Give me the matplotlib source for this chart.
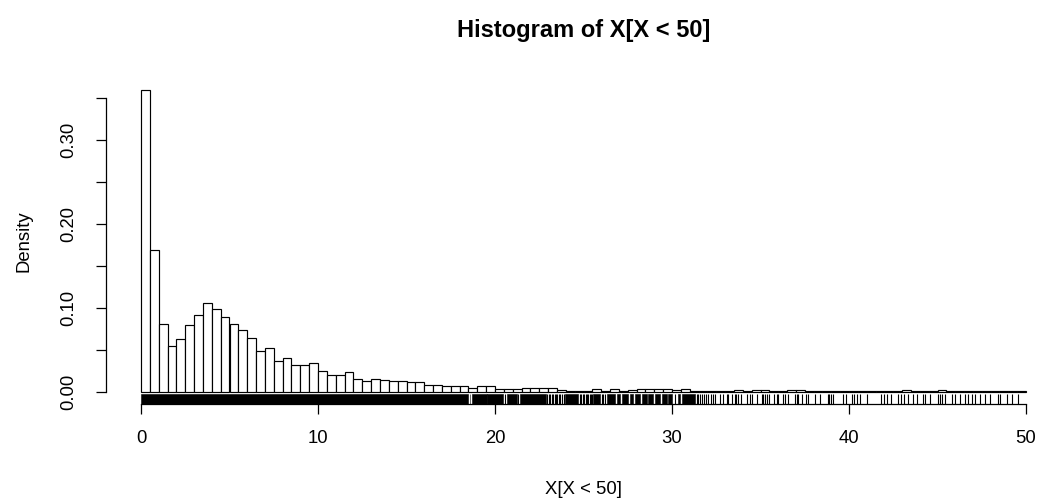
import numpy as np
import matplotlib
matplotlib.use("Agg")
import matplotlib.pyplot as plt
from matplotlib.patches import Rectangle
import matplotlib.transforms as mtransforms

plt.rcParams['font.family'] = ['Liberation Sans', 'DejaVu Sans']

# ---- data ----
bin_width = 0.5
bin_start = 0.0
densities = [
    0.359, 0.169, 0.081, 0.054, 0.063, 0.079, 0.091, 0.105, 0.099, 0.089,
    0.081, 0.073, 0.064, 0.049, 0.052, 0.037, 0.040, 0.032, 0.032, 0.034,
    0.025, 0.020, 0.020, 0.023, 0.0155, 0.0127, 0.0155, 0.0143, 0.0127, 0.0127,
    0.0111, 0.0111, 0.0079, 0.0079, 0.0063, 0.0063, 0.0063, 0.0048, 0.0063, 0.0063,
    0.0032, 0.0032, 0.0032, 0.0048, 0.0048, 0.0048, 0.0040, 0.0025, 0.0012, 0.0012,
    0.0008, 0.0028, 0.0012, 0.0028, 0.0012, 0.0016, 0.0028, 0.0028, 0.0028, 0.0028,
    0.0016, 0.0028, 0.0012, 0.0012, 0.0012, 0.0008, 0.0012, 0.0016, 0.0012, 0.0016,
    0.0016, 0.0008, 0.0012, 0.0016, 0.0016, 0.0008, 0.0008, 0.0012, 0.0004, 0.0008,
    0.0012, 0.0004, 0.0004, 0.0008, 0.0008, 0.0008, 0.0016, 0.0008, 0.0008, 0.0004,
    0.0016, 0.0008, 0.0004, 0.0012, 0.0008, 0.0008, 0.0004, 0.0008, 0.0004, 0.0004,
]

# rug: dense stretches (start, end) and individual ticks
rug_blocks = [
    (0.0, 18.48), (18.57, 18.61), (18.68, 19.52), (19.56, 20.47),
    (20.68, 21.22), (21.40, 22.88), (23.95, 24.70), (25.55, 25.93),
    (26.31, 26.78), (26.87, 27.06), (27.16, 27.53), (27.63, 27.81),
    (27.91, 28.19), (28.29, 28.57), (28.66, 28.94), (29.04, 29.32),
    (29.42, 29.70), (29.76, 29.98), (30.36, 30.45), (30.58, 31.30),
]
rug_ticks = [
    20.58, 21.29, 22.95, 23.05, 23.12, 23.20, 23.30, 23.39, 23.45, 23.52,
    23.62, 23.70, 23.80, 23.88, 24.78, 24.85, 24.95, 25.05, 25.12, 25.20,
    25.27, 25.35, 25.42, 25.48, 26.02, 26.12, 26.22, 30.17,
    31.39, 31.49, 31.58, 31.68, 31.81, 31.92, 32.05, 32.19, 32.33, 32.43,
    32.71, 32.90, 33.09, 33.18, 33.37, 33.56, 33.62, 33.75, 33.88,
    34.22, 34.41, 34.50, 34.78, 35.07, 35.16, 35.25, 35.35, 35.50,
    35.78, 35.91, 36.01, 36.29, 36.38, 36.57, 36.95, 37.04, 37.14,
    37.33, 37.57, 37.70, 38.08, 38.36, 38.79, 38.89, 38.98, 39.11,
    39.68, 39.81, 40.15, 40.30, 40.47, 40.62, 41.03, 41.81, 41.99,
    42.13, 42.37, 42.79, 42.94, 43.12, 43.35, 43.60, 43.82, 44.16,
    44.29, 44.58, 45.05, 45.14, 45.24, 45.42, 45.84, 45.99, 46.27,
    46.55, 46.74, 46.93, 47.12, 47.40, 47.68, 47.97, 48.40, 48.53,
    48.91, 49.19, 49.57,
]

x_ticks = [0, 10, 20, 30, 40, 50]
y_ticks = [0.00, 0.05, 0.10, 0.15, 0.20, 0.25, 0.30, 0.35]
y_labels = ['0.00', '', '0.10', '', '0.20', '', '0.30', '']
title = 'Histogram of X[X < 50]'
xlabel = 'X[X < 50]'
ylabel = 'Density'

# ---- figure ----
W, H = 1046, 501
fig = plt.figure(figsize=(W / 100, H / 100), dpi=100)

left_px, right_px = 105.6, 1061.4
top_px, bottom_px = 77.9, 403.8
ax = fig.add_axes([left_px / W, 1 - bottom_px / H,
                   (right_px - left_px) / W, (bottom_px - top_px) / H])

n = len(densities)
edges = bin_start + bin_width * np.arange(n)
ax.bar(edges, densities, width=bin_width, align='edge',
       facecolor='white', edgecolor='black', linewidth=0.85, zorder=2)

ymax = max(densities)
xmin, xmax = bin_start, bin_start + bin_width * n
ax.set_xlim(xmin - 0.04 * (xmax - xmin), xmax + 0.04 * (xmax - xmin))
ax.set_ylim(-0.04 * ymax, ymax * 1.04)

# rug
trans = mtransforms.blended_transform_factory(ax.transData, ax.transAxes)
for a, b in rug_blocks:
    ax.add_patch(Rectangle((a, 0), b - a, 0.03, transform=trans,
                           facecolor='black', edgecolor='black', linewidth=0.4,
                           zorder=3, clip_on=False))
ax.vlines(rug_ticks, 0, 0.03, transform=trans, color='black',
          linewidth=0.8, zorder=3)

# axes styling (R base style)
for s in ['top', 'right']:
    ax.spines[s].set_visible(False)
ax.spines['left'].set_bounds(0, 0.35)
ax.spines['bottom'].set_bounds(0, 50)
for s in ['left', 'bottom']:
    ax.spines[s].set_linewidth(0.9)

ax.set_xticks(x_ticks)
ax.set_xticklabels([str(v) for v in x_ticks])
ax.set_yticks(y_ticks)
ax.set_yticklabels(y_labels, rotation=90, va='center')
ax.tick_params(axis='both', direction='out', length=7.2, width=0.9,
               labelsize=13.3, colors='black')
ax.tick_params(axis='x', pad=12)
ax.tick_params(axis='y', pad=13)

fig.text(583.5 / W, 1 - 31 / H, title, ha='center', va='center',
         fontsize=17, fontweight='bold')
fig.text(583.5 / W, 1 - 489 / H, xlabel, ha='center', va='center',
         fontsize=13.3)
fig.text(23.5 / W, 1 - 241 / H, ylabel, ha='center', va='center',
         rotation=90, fontsize=13.3)

fig.savefig('out.png', dpi=100)
